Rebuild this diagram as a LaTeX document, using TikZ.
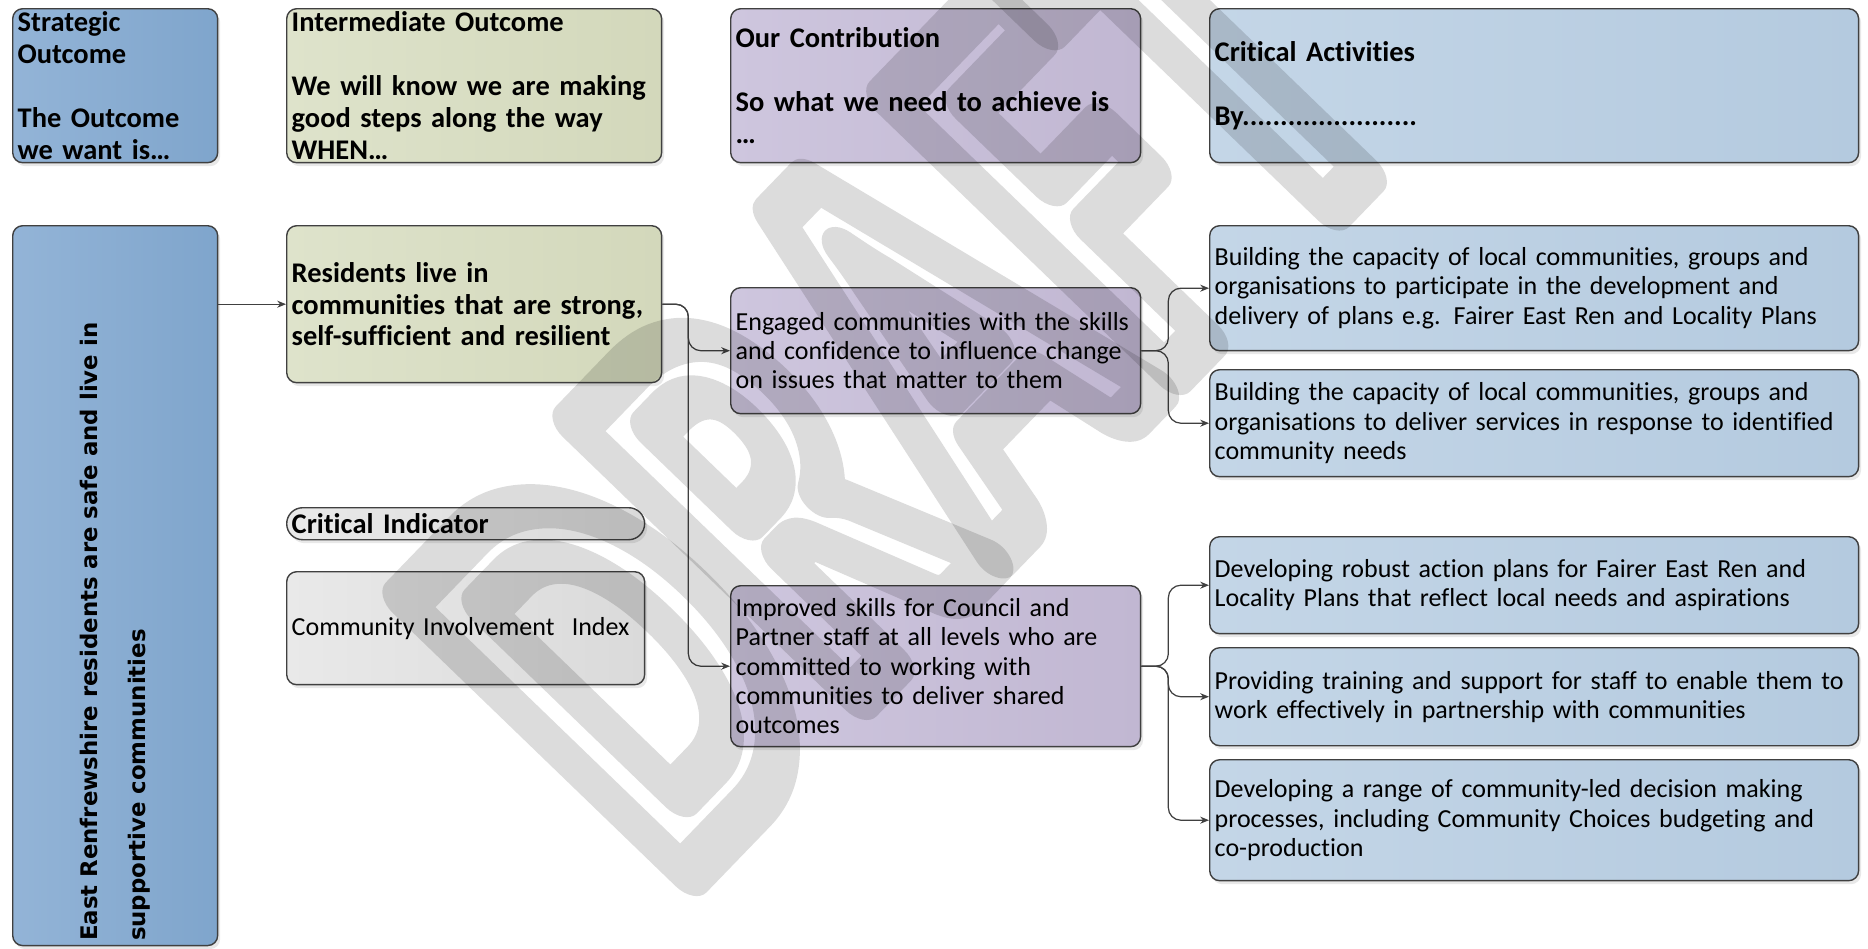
\documentclass[tikz,border=0pt]{standalone}
\usepackage{fontspec}
\setmainfont[Ligatures=NoCommon]{Carlito}
\newfontfamily\goalfont{DejaVu Sans}
\usetikzlibrary{positioning, arrows.meta, shadows}

\definecolor{stratA}{HTML}{93B4D7}
\definecolor{stratB}{HTML}{7FA5CC}
\definecolor{interA}{HTML}{DEE3CB}
\definecolor{interB}{HTML}{D3D8BB}
\definecolor{contrA}{HTML}{CEC6DE}
\definecolor{contrB}{HTML}{C1B7D2}
\definecolor{actA}{HTML}{C4D6E7}
\definecolor{actB}{HTML}{B4CADF}
\definecolor{indA}{HTML}{E9E9E9}
\definecolor{indB}{HTML}{DADADA}
\definecolor{lineC}{HTML}{404040}
\definecolor{wmC}{HTML}{DCDCDC}

\begin{document}
\begin{tikzpicture}[
    x=0.02cm, y=-0.02cm,
    every node/.style={inner xsep=0.1cm, inner ysep=0.05cm},
    box/.style={draw=lineC, line width=0.8pt, rounded corners=0.2cm, anchor=north west, align=left,
      drop shadow={shadow xshift=0.05cm, shadow yshift=-0.07cm, opacity=0.18}},
    strat/.style={box, left color=stratA, right color=stratB},
    inter/.style={box, left color=interA, right color=interB},
    contr/.style={box, left color=contrA, right color=contrB},
    act/.style={box, left color=actA, right color=actB, text width=12.78cm},
    indic/.style={box, left color=indA, right color=indB, text width=6.96cm},
    head/.style={font=\fontsize{16.2}{18.1}\selectfont\bfseries, inner ysep=0pt},
    body/.style={font=\fontsize{14.8}{16.6}\selectfont},
    conn/.style={draw=lineC, line width=0.7pt, rounded corners=0.25cm, -{Stealth[length=5pt, width=4pt]}},
]
  \useasboundingbox (0,0) rectangle (1868,948);

  % column headings
  \node[strat, head, text width=3.9cm, minimum height=3.08cm] (hStrat) at (12,8)
    {Strategic\\Outcome\\\mbox{}\\The Outcome\\we want is…};
  \node[inter, head, text width=7.3cm, minimum height=3.08cm] (hInter) at (286,8)
    {Intermediate Outcome\\\mbox{}\\We will know we are making\\good steps along the way\\WHEN…};
  \node[contr, head, text width=8cm, minimum height=3.08cm] (hContr) at (730,8)
    {Our Contribution\\\mbox{}\\So what we need to achieve is\\…};
  \node[act, head, minimum height=3.08cm] (hAct) at (1209,8)
    {Critical Activities\\\mbox{}\\By.......................};

  % outcomes
  \node[strat, text width=3.9cm, minimum height=14.4cm] (goal) at (12,225) {};
  \node[rotate=90, anchor=west, align=left, font=\goalfont\bfseries\fontsize{13}{27}\selectfont] (goalText) at (goal.south)
    {East Renfrewshire residents are safe and live in\\supportive communities};
  \node[inter, head, text width=7.3cm, minimum height=3.14cm] (res) at (286,225)
    {Residents live in\\communities that are strong,\\self-sufficient and resilient};
  \node[indic, head, rounded corners=0.32cm, minimum height=0.64cm] (critInd) at (286,507) {Critical Indicator};
  \node[indic, body, minimum height=2.26cm] (cii) at (286,571) {Community Involvement~ Index};

  % contributions
  \node[contr, body, text width=8cm, minimum height=2.52cm] (eng) at (730,287)
    {Engaged communities with the skills\\and confidence to influence change\\on issues that matter to them};
  \node[contr, body, text width=8cm, minimum height=3.22cm] (imp) at (730,585)
    {Improved skills for Council and\\Partner staff at all levels who are\\committed to working with\\communities to deliver shared\\outcomes};

  % critical activities
  \node[act, body, minimum height=2.5cm] (a1) at (1209,225)
    {Building the capacity of local communities, groups and\\organisations to participate in the development and\\delivery of plans e.g. Fairer East Ren and Locality Plans};
  \node[act, body, minimum height=2.14cm] (a2) at (1209,369)
    {Building the capacity of local communities, groups and\\organisations to deliver services in response to identified\\community needs};
  \node[act, body, minimum height=1.94cm] (a3) at (1209,536)
    {Developing robust action plans for Fairer East Ren and\\Locality Plans that reflect local needs and aspirations};
  \node[act, body, minimum height=1.96cm] (a4) at (1209,647)
    {Providing training and support for staff to enable them to\\work effectively in partnership with communities};
  \node[act, body, minimum height=2.42cm] (a5) at (1209,759)
    {Developing a range of community-led decision making\\processes, including Community Choices budgeting and\\co-production};

  % connectors
  \draw[conn] (goal.east |- res.west) -- (res.west);
  \draw[conn] (res.east) -- ++(26,0) |- (eng.west);
  \draw[conn] (res.east) -- ++(26,0) |- (imp.west);
  \draw[conn] (eng.east) -- ++(27,0) |- (a1.west);
  \draw[conn] (eng.east) -- ++(27,0) |- (a2.west);
  \draw[conn] (imp.east) -- ++(27,0) |- (a3.west);
  \draw[conn] (imp.east) -- ++(27,0) |- (a4.west);
  \draw[conn] (imp.east) -- ++(27,0) |- (a5.west);

  % watermark
  \begin{scope}[blend mode=multiply]
    \node[rotate=46, xscale=0.64, anchor=base west, inner sep=0pt, text=wmC,
          font=\fontsize{345}{345}\selectfont\bfseries] (wm) at (672,890)
      {\special{pdf:literal direct 1 Tr 30 w 1 j 0.863 G}DRAFT\special{pdf:literal direct 0 Tr}};
  \end{scope}
\end{tikzpicture}
\end{document}
